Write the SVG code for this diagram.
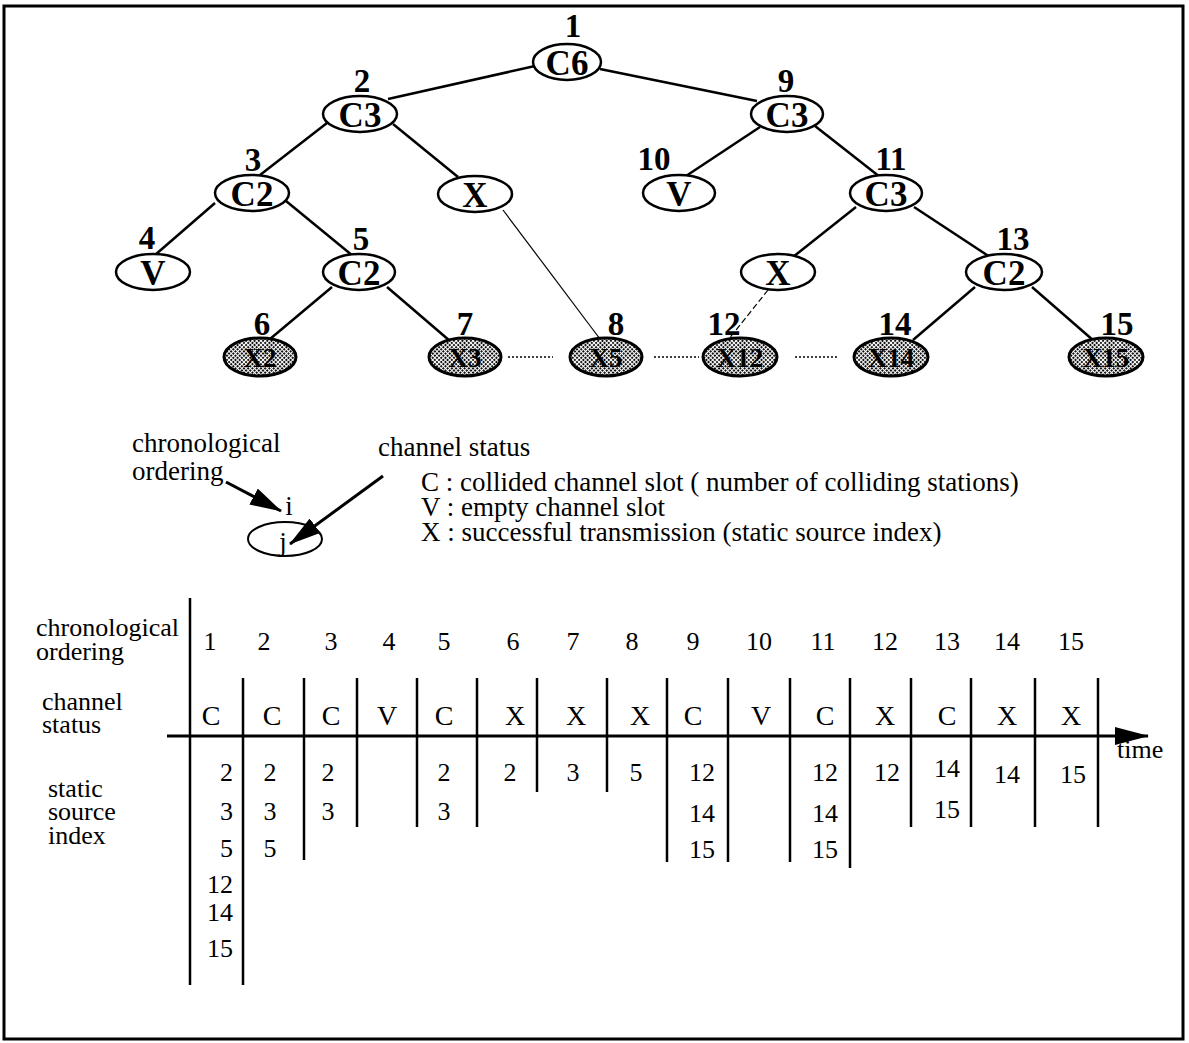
<svg xmlns="http://www.w3.org/2000/svg" width="1189" height="1043" viewBox="0 0 1189 1043">
<style>
.nd{fill:#fff;stroke:#000;stroke-width:2.5}
.sh{fill:url(#dots);stroke:#000;stroke-width:3}
.nt{font-family:"Liberation Serif",serif;font-weight:bold;font-size:35px;text-anchor:middle}
.st{font-family:"Liberation Serif",serif;font-weight:bold;font-size:27px;text-anchor:middle}
.nl{font-family:"Liberation Serif",serif;font-weight:bold;font-size:33px;text-anchor:middle}
.ed{stroke:#000;stroke-width:2.5;fill:none}
.thin{stroke:#000;stroke-width:1.2;fill:none}
.dot{stroke:#000;stroke-width:1.6;stroke-dasharray:2 2;fill:none}
.tx{font-family:"Liberation Serif",serif;font-size:27px}
.tb{font-family:"Liberation Serif",serif;font-size:26px}
.tc{font-family:"Liberation Serif",serif;font-size:26px;text-anchor:middle}
.te{font-family:"Liberation Serif",serif;font-size:26px;text-anchor:end}
.ts{font-family:"Liberation Serif",serif;font-size:28px;text-anchor:middle}
.gl{stroke:#000;stroke-width:2.5}
</style>
<defs>
<pattern id="dots" width="3" height="3" patternUnits="userSpaceOnUse" patternTransform="rotate(45)">
<rect width="3" height="3" fill="#fff"/>
<rect width="2" height="2" fill="#111"/>
</pattern>
<marker id="ah" viewBox="0 0 32 18" refX="31" refY="9" markerWidth="32" markerHeight="18" markerUnits="userSpaceOnUse" orient="auto">
<path d="M0,0 L32,9 L0,18 Z" fill="#000"/>
</marker>
<marker id="axh" viewBox="0 0 34 18" refX="33" refY="9" markerWidth="34" markerHeight="18" markerUnits="userSpaceOnUse" orient="auto">
<path d="M0,0 L34,9 L0,18 Z" fill="#000"/>
</marker>
</defs>
<rect x="4" y="6" width="1179" height="1033" fill="#fff" stroke="#000" stroke-width="3"/>

<g id="connectors">
<line class="ed" x1="535" y1="66" x2="388" y2="99"/>
<line class="ed" x1="600" y1="69" x2="757" y2="101"/>
<line class="ed" x1="327" y1="123" x2="260" y2="175"/>
<line class="ed" x1="393" y1="124" x2="458" y2="177"/>
<line class="ed" x1="215" y1="203" x2="155" y2="255"/>
<line class="ed" x1="286" y1="201" x2="353" y2="256"/>
<line class="ed" x1="332" y1="287" x2="270" y2="339"/>
<line class="ed" x1="387" y1="287" x2="450" y2="341"/>
<line class="thin" x1="503" y1="210" x2="600" y2="339"/>
<line class="ed" x1="760" y1="127" x2="686" y2="176"/>
<line class="ed" x1="815" y1="126" x2="880" y2="177"/>
<line class="ed" x1="856" y1="207" x2="793" y2="257"/>
<line class="ed" x1="914" y1="207" x2="990" y2="257"/>
<line class="thin" x1="768" y1="290" x2="728" y2="340" stroke-dasharray="6 3"/>
<line class="ed" x1="975" y1="287" x2="913" y2="340"/>
<line class="ed" x1="1032" y1="287" x2="1094" y2="341"/>
<line class="dot" x1="508" y1="357" x2="553" y2="357"/>
<line class="dot" x1="654" y1="357" x2="699" y2="357"/>
<line class="dot" x1="795" y1="357" x2="839" y2="357"/>
<line stroke="#000" stroke-width="3" x1="226" y1="482" x2="281" y2="511" marker-end="url(#ah)"/>
<line stroke="#000" stroke-width="3" x1="383" y1="476" x2="290" y2="544" marker-end="url(#ah)"/>
</g>

<g id="n1"><ellipse class="nd" cx="567" cy="62" rx="34" ry="18"/><text class="nt" x="567" y="75">C6</text><text class="nl" x="573" y="37">1</text></g>
<g id="n2"><ellipse class="nd" cx="360" cy="114" rx="37" ry="18"/><text class="nt" x="360" y="127">C3</text><text class="nl" x="362" y="92">2</text></g>
<g id="n3"><ellipse class="nd" cx="252" cy="193" rx="37" ry="18"/><text class="nt" x="252" y="206">C2</text><text class="nl" x="253" y="171">3</text></g>
<g id="nx1"><ellipse class="nd" cx="475" cy="194" rx="37" ry="18"/><text class="nt" x="475" y="207">X</text></g>
<g id="n4"><ellipse class="nd" cx="153" cy="272" rx="37" ry="18"/><text class="nt" x="153" y="285">V</text><text class="nl" x="147" y="249">4</text></g>
<g id="n5"><ellipse class="nd" cx="359" cy="272" rx="36" ry="18"/><text class="nt" x="359" y="285">C2</text><text class="nl" x="361" y="250">5</text></g>
<g id="n6"><ellipse class="sh" cx="260" cy="357" rx="36" ry="19"/><text class="st" x="260" y="367">X2</text><text class="nl" x="262" y="335">6</text></g>
<g id="n7"><ellipse class="sh" cx="465" cy="357" rx="36" ry="19"/><text class="st" x="465" y="367">X3</text><text class="nl" x="465" y="335">7</text></g>
<g id="n8"><ellipse class="sh" cx="606" cy="357" rx="36" ry="19"/><text class="st" x="606" y="367">X5</text><text class="nl" x="616" y="335">8</text></g>
<g id="n9"><ellipse class="nd" cx="787" cy="114" rx="36" ry="18"/><text class="nt" x="787" y="127">C3</text><text class="nl" x="786" y="92">9</text></g>
<g id="n10"><ellipse class="nd" cx="679" cy="193" rx="36" ry="18"/><text class="nt" x="679" y="206">V</text><text class="nl" x="654" y="170">10</text></g>
<g id="n11"><ellipse class="nd" cx="886" cy="193" rx="36" ry="18"/><text class="nt" x="886" y="206">C3</text><text class="nl" x="891" y="170">11</text></g>
<g id="nx2"><ellipse class="nd" cx="778" cy="272" rx="37" ry="18"/><text class="nt" x="778" y="285">X</text></g>
<g id="n13"><ellipse class="nd" cx="1004" cy="272" rx="38" ry="18"/><text class="nt" x="1004" y="285">C2</text><text class="nl" x="1013" y="250">13</text></g>
<g id="n12"><ellipse class="sh" cx="740" cy="357" rx="37" ry="19"/><text class="st" x="740" y="367">X12</text><text class="nl" x="724" y="335">12</text></g>
<g id="n14"><ellipse class="sh" cx="891" cy="357" rx="37" ry="19"/><text class="st" x="891" y="367">X14</text><text class="nl" x="895" y="335">14</text></g>
<g id="n15"><ellipse class="sh" cx="1106" cy="357" rx="37" ry="19"/><text class="st" x="1106" y="367">X15</text><text class="nl" x="1117" y="335">15</text></g>

<g id="legend">
<text class="tx" x="132" y="452">chronological</text>
<text class="tx" x="132" y="480">ordering</text>
<text class="tx" x="289" y="515" text-anchor="middle">i</text>
<ellipse cx="285" cy="539" rx="37" ry="17" fill="none" stroke="#000" stroke-width="2"/>
<text class="tx" x="283" y="551" text-anchor="middle">j</text>
<text class="tx" x="378" y="456">channel status</text>
<text class="tx" x="421" y="491">C : collided channel slot ( number of colliding stations)</text>
<text class="tx" x="421" y="516">V : empty channel slot</text>
<text class="tx" x="421" y="541">X : successful transmission (static source index)</text>
</g>

<g id="table">
<text class="tb" x="36" y="636">chronological</text>
<text class="tb" x="36" y="660">ordering</text>
<text class="tb" x="42" y="710">channel</text>
<text class="tb" x="42" y="733">status</text>
<text class="tb" x="48" y="797">static</text>
<text class="tb" x="48" y="820">source</text>
<text class="tb" x="48" y="844">index</text>

<line stroke="#000" stroke-width="3" x1="167" y1="736" x2="1148" y2="736" marker-end="url(#axh)"/>
<text class="tb" x="1117" y="758" font-size="28">time</text>

<line class="gl" x1="190" y1="598" x2="190" y2="985"/>
<line class="gl" x1="243" y1="678" x2="243" y2="985"/>
<line class="gl" x1="304" y1="678" x2="304" y2="860"/>
<line class="gl" x1="357" y1="678" x2="357" y2="827"/>
<line class="gl" x1="417" y1="678" x2="417" y2="827"/>
<line class="gl" x1="477" y1="678" x2="477" y2="827"/>
<line class="gl" x1="537" y1="678" x2="537" y2="792"/>
<line class="gl" x1="607" y1="678" x2="607" y2="792"/>
<line class="gl" x1="667" y1="678" x2="667" y2="862"/>
<line class="gl" x1="728" y1="678" x2="728" y2="862"/>
<line class="gl" x1="790" y1="678" x2="790" y2="862"/>
<line class="gl" x1="850" y1="678" x2="850" y2="868"/>
<line class="gl" x1="911" y1="678" x2="911" y2="827"/>
<line class="gl" x1="971" y1="678" x2="971" y2="827"/>
<line class="gl" x1="1035" y1="678" x2="1035" y2="827"/>
<line class="gl" x1="1098" y1="678" x2="1098" y2="827"/>

<text class="tc" x="210" y="650">1</text>
<text class="tc" x="264" y="650">2</text>
<text class="tc" x="331" y="650">3</text>
<text class="tc" x="389" y="650">4</text>
<text class="tc" x="444" y="650">5</text>
<text class="tc" x="513" y="650">6</text>
<text class="tc" x="573" y="650">7</text>
<text class="tc" x="632" y="650">8</text>
<text class="tc" x="693" y="650">9</text>
<text class="tc" x="759" y="650">10</text>
<text class="tc" x="823" y="650">11</text>
<text class="tc" x="885" y="650">12</text>
<text class="tc" x="947" y="650">13</text>
<text class="tc" x="1007" y="650">14</text>
<text class="tc" x="1071" y="650">15</text>

<text class="ts" x="211" y="725">C</text>
<text class="ts" x="272" y="725">C</text>
<text class="ts" x="331" y="725">C</text>
<text class="ts" x="387" y="725">V</text>
<text class="ts" x="444" y="725">C</text>
<text class="ts" x="515" y="725">X</text>
<text class="ts" x="576" y="725">X</text>
<text class="ts" x="640" y="725">X</text>
<text class="ts" x="693" y="725">C</text>
<text class="ts" x="761" y="725">V</text>
<text class="ts" x="825" y="725">C</text>
<text class="ts" x="885" y="725">X</text>
<text class="ts" x="947" y="725">C</text>
<text class="ts" x="1007" y="725">X</text>
<text class="ts" x="1071" y="725">X</text>

<text class="te" x="233" y="781">2</text>
<text class="te" x="233" y="820">3</text>
<text class="te" x="233" y="857">5</text>
<text class="te" x="233" y="893">12</text>
<text class="te" x="233" y="921">14</text>
<text class="te" x="233" y="957">15</text>
<text class="tc" x="270" y="781">2</text>
<text class="tc" x="270" y="820">3</text>
<text class="tc" x="270" y="857">5</text>
<text class="tc" x="328" y="781">2</text>
<text class="tc" x="328" y="820">3</text>
<text class="tc" x="444" y="781">2</text>
<text class="tc" x="444" y="820">3</text>
<text class="tc" x="510" y="781">2</text>
<text class="tc" x="573" y="781">3</text>
<text class="tc" x="636" y="781">5</text>
<text class="tc" x="702" y="781">12</text>
<text class="tc" x="702" y="822">14</text>
<text class="tc" x="702" y="858">15</text>
<text class="tc" x="825" y="781">12</text>
<text class="tc" x="825" y="822">14</text>
<text class="tc" x="825" y="858">15</text>
<text class="tc" x="887" y="781">12</text>
<text class="tc" x="947" y="777">14</text>
<text class="tc" x="947" y="818">15</text>
<text class="tc" x="1007" y="783">14</text>
<text class="tc" x="1073" y="783">15</text>
</g>
</svg>
